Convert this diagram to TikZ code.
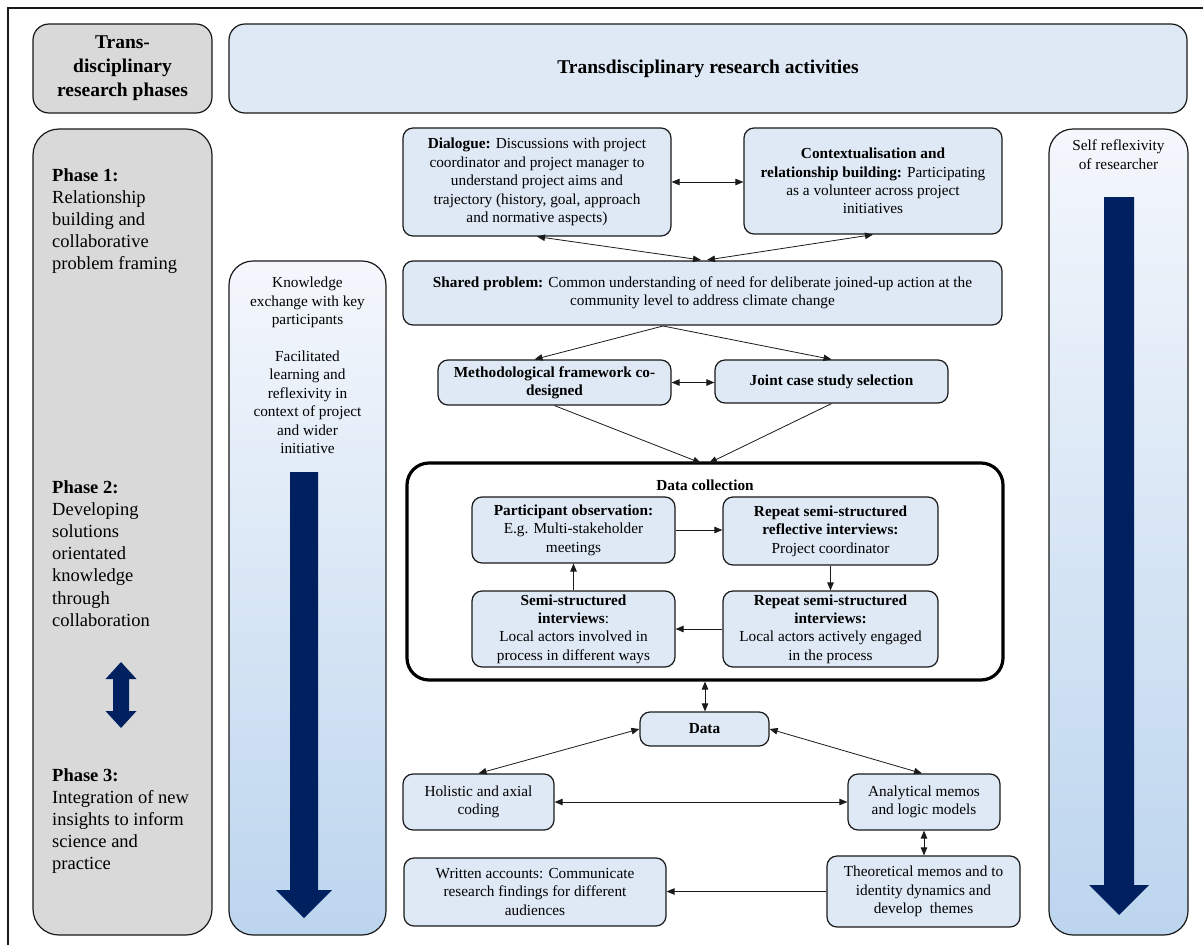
\documentclass[tikz,border=0pt]{standalone}
\usepackage{fontspec}
\setmainfont{LiberationSerif}[Extension=.ttf,
  UprightFont=*-Regular, BoldFont=*-Bold,
  ItalicFont=*-Italic, BoldItalicFont=*-BoldItalic]
\usetikzlibrary{arrows.meta,calc}

\definecolor{boxblue}{HTML}{DEE9F5}
\definecolor{phasegray}{HTML}{D9D9D9}
\definecolor{navy}{HTML}{002060}
\definecolor{colTop}{HTML}{F4F7FC}
\definecolor{colBot}{HTML}{BCD5EE}
\definecolor{edge}{HTML}{1A1A1A}

\newcommand\fbody{\fontsize{15.3}{18.4}\selectfont}
\newcommand\fphase{\fontsize{18.5}{22.2}\selectfont}
\newcommand\fhead{\fontsize{19.5}{24}\selectfont\bfseries}

\tikzset{
  box/.style={draw=edge, line width=1.2pt, rounded corners=10, fill=boxblue,
              align=center, inner sep=2pt, font=\fbody},
  graycol/.style={draw=edge, line width=1.2pt, rounded corners=26, fill=phasegray},
  gradcol/.style={draw=edge, line width=1.2pt, rounded corners=24,
                  top color=colTop, bottom color=colBot},
  link/.style={draw=edge, line width=0.8pt, -{Triangle[length=8pt,width=6.5pt]}},
  dlink/.style={draw=edge, line width=0.8pt, {Triangle[length=8pt,width=6.5pt]}-{Triangle[length=8pt,width=6.5pt]}},
  phasetxt/.style={anchor=north west, align=left, font=\fphase, inner sep=0pt},
  coltxt/.style={anchor=north, align=center, font=\fbody, inner sep=0pt},
}

\begin{document}
\begin{tikzpicture}[x=1pt,y=-1pt]
\useasboundingbox (0,0) rectangle (1203,945);
\fill[white] (0,0) rectangle (1203,945);
% frame edges
\draw[line width=1.2pt, edge] (8,945) -- (8,8) -- (1203,8);

% headers
\node[graycol, rounded corners=16, minimum width=179, minimum height=89,
      align=center, font=\fhead] (hphase) at (122.5,68.5)
      {Trans-\\disciplinary\\research phases};
\node[box, rounded corners=16, minimum width=958, minimum height=89,
      font=\fhead] (hact) at (708,68.5) {Transdisciplinary research activities};

% phase column
\node[graycol, minimum width=179, minimum height=806] (phcol) at (122.5,532) {};
\node[phasetxt] (ph1) at (52,168)
  {\textbf{Phase 1:}\\Relationship\\building and\\collaborative\\problem framing};
\node[phasetxt] (ph2) at (52,480)
  {\textbf{Phase 2:}\\Developing\\solutions\\orientated\\knowledge\\through\\collaboration};
\node[phasetxt] (ph3) at (52,768)
  {\textbf{Phase 3:}\\Integration of new\\insights to inform\\science and\\practice};
% double arrow between phases
\fill[navy] (121,662) -- (136.5,679) -- (129,679) -- (129,711) -- (136.5,711)
  -- (121,728) -- (105.5,711) -- (113,711) -- (113,679) -- (105.5,679) -- cycle;

% knowledge exchange column
\node[gradcol, minimum width=157, minimum height=674] (kcol) at (307.5,598) {};
\node[coltxt] (ktxt) at (307.5,277)
  {Knowledge\\exchange with key\\participants\\[18.4pt]Facilitated\\learning and\\reflexivity in\\context of project\\and wider\\initiative};
\fill[navy] (290,472) -- (318,472) -- (318,890) -- (332,890) -- (304,918)
  -- (276,890) -- (290,890) -- cycle;

% self reflexivity column
\node[gradcol, minimum width=139, minimum height=806] (scol) at (1118.5,532) {};
\node[coltxt] (stxt) at (1118.5,140) {Self reflexivity\\of researcher};
\fill[navy] (1104,197) -- (1134,197) -- (1134,885) -- (1149,885) -- (1119,915)
  -- (1089,885) -- (1104,885) -- cycle;

% research activities
\node[box, minimum width=268, minimum height=108] (dlg) at (537,182)
  {\textbf{Dialogue:} Discussions with project\\coordinator and project manager to\\understand project aims and\\trajectory (history, goal, approach\\and normative aspects)};
\node[box, minimum width=258, minimum height=106] (ctx) at (873,181)
  {\textbf{Contextualisation and}\\\textbf{relationship building:} Participating\\as a volunteer across project\\initiatives};
\node[box, minimum width=599, minimum height=64] (shp) at (702.5,293)
  {\textbf{Shared problem:} Common understanding of need for deliberate joined-up action at the\\community level to address climate change};
\node[box, minimum width=233, minimum height=45] (meth) at (554.5,382.5)
  {\textbf{Methodological framework co-}\\\textbf{designed}};
\node[box, minimum width=233, minimum height=43] (jcs) at (831.5,381.5)
  {\textbf{Joint case study selection}};

% data collection
\node[draw=black, line width=3.2pt, rounded corners=22, fill=white,
      minimum width=596, minimum height=217] (dcol) at (705,571.5) {};
\node[font=\fbody\bfseries, inner sep=0pt] (dctitle) at (705,485) {Data collection};
\node[box, minimum width=203, minimum height=66] (po) at (573.5,530)
  {\textbf{Participant observation:}\\E.g. Multi-stakeholder\\meetings};
\node[box, minimum width=215, minimum height=68] (rr) at (830.5,531)
  {\textbf{Repeat semi-structured}\\\textbf{reflective interviews:}\\Project coordinator};
\node[box, minimum width=203, minimum height=76] (ss) at (573.5,629)
  {\textbf{Semi-structured}\\\textbf{interviews}:\\Local actors involved in\\process in different ways};
\node[box, minimum width=215, minimum height=76] (rs) at (830.5,629)
  {\textbf{Repeat semi-structured}\\\textbf{interviews:}\\Local actors actively engaged\\in the process};

% analysis
\node[box, minimum width=129, minimum height=34] (data) at (704.5,729) {\textbf{Data}};
\node[box, minimum width=151, minimum height=56] (hol) at (478.5,802)
  {Holistic and axial\\coding};
\node[box, minimum width=152, minimum height=56] (ana) at (924,802)
  {Analytical memos\\and logic models};
\node[box, minimum width=262, minimum height=68] (wr) at (535,892)
  {Written accounts: Communicate\\research findings for different\\audiences};
\node[box, minimum width=193, minimum height=71] (theo) at (923.5,891.5)
  {Theoretical memos and to\\identity dynamics and\\develop\ \ themes};

% meeting points of connectors
\coordinate (m1a) at (701,260);
\coordinate (m1b) at (707,260);
\coordinate (s1) at (663,326);
\coordinate (m2a) at (701,463);
\coordinate (m2b) at (709,463);

% connectors
\draw[dlink] (dlg.east) -- (dlg.east -| ctx.west);
\draw[dlink] (dlg.south) -- (m1a);
\draw[dlink] (ctx.south) -- (m1b);
\draw[link] (s1) -- ($(meth.north)+(-20,0)$);
\draw[link] (s1) -- (jcs.north);
\draw[dlink] (meth.east) -- (meth.east -| jcs.west);
\draw[link] (meth.south) -- (m2a);
\draw[link] (jcs.south) -- (m2b);

\draw[link] (po.east) -- (po.east -| rr.west);
\draw[link] (rr.south) -- (rr.south |- rs.north);
\draw[link] (rs.west) -- (rs.west -| ss.east);
\draw[link] (ss.north) -- (po.south);

\draw[dlink] (dcol.south) -- (dcol.south |- data.north);
\draw[dlink] (data.west) -- (hol.north);
\draw[dlink] (data.east) -- ($(ana.north)+(-2,0)$);
\draw[dlink] (hol.east) -- (ana.west);
\draw[dlink] (ana.south) -- (ana.south |- theo.north);
\draw[link] (theo.west) -- (theo.west -| wr.east);
\end{tikzpicture}
\end{document}
